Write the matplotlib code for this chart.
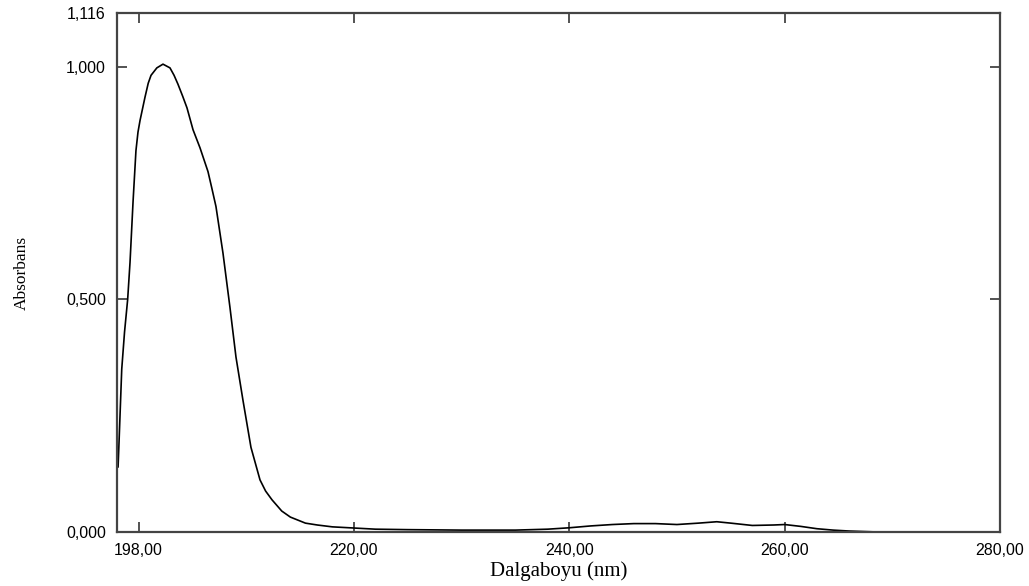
import matplotlib
matplotlib.use("Agg")
from matplotlib import pyplot as plt

# absorbance spectrum
wavelength = [198.1, 198.2, 198.44, 198.7, 198.99, 199.21, 199.49, 199.76, 199.95,
              200.14, 200.6, 200.9, 201.16, 201.7, 202.27, 202.92, 203.3, 203.66,
              204.1, 204.5, 205.06, 205.71, 206.45, 206.8, 207.19, 207.84, 208.49,
              209.05, 209.7, 210.44, 211.28, 211.8, 212.4, 213.3, 214.1, 215.5,
              216.6, 218.0, 219.6, 222, 225, 230, 235, 238, 240, 242, 244, 246,
              248, 250, 252, 253.7, 255, 257, 259, 260, 261.5, 263, 264.5, 266, 268.6]
absorbance = [0.14, 0.20, 0.35, 0.43, 0.50, 0.58, 0.71, 0.82, 0.86,
              0.885, 0.935, 0.965, 0.982, 0.998, 1.006, 0.998, 0.982, 0.963,
              0.937, 0.912, 0.865, 0.826, 0.775, 0.74, 0.70, 0.60, 0.483,
              0.376, 0.283, 0.182, 0.112, 0.088, 0.069, 0.045, 0.032, 0.019,
              0.015, 0.011, 0.009, 0.006, 0.005, 0.004, 0.004, 0.006, 0.009, 0.013, 0.016, 0.018,
              0.018, 0.016, 0.019, 0.022, 0.019, 0.014, 0.015, 0.016, 0.012, 0.007, 0.004, 0.002, 0.0]

x_ticks = [200, 220, 240, 260, 280]
x_labels = ["198,00", "220,00", "240,00", "260,00", "280,00"]
y_ticks = [0.0, 0.5, 1.0, 1.116]
y_labels = ["0,000", "0,500", "1,000", "1,116"]

fig = plt.figure(figsize=(10.29, 5.86), dpi=100)
ax = fig.add_axes([0.1137, 0.0922, 0.8581, 0.8856])

ax.plot(wavelength, absorbance, color="black", linewidth=1.2)

ax.set_xlim(198, 280)
ax.set_ylim(0, 1.116)

ax.set_xticks(x_ticks)
ax.set_xticklabels(x_labels, fontfamily="Liberation Sans", fontsize=11.5)
ax.set_yticks(y_ticks)
ax.set_yticklabels(y_labels, fontfamily="Liberation Sans", fontsize=11.5)

ax.tick_params(direction="in", length=7, width=1.3, color="#444444",
               top=True, right=True, pad=8)
ax.tick_params(axis="y", labelright=False)

for s in ax.spines.values():
    s.set_color("#444444")
    s.set_linewidth(1.6)

ax.set_xlabel("Dalgaboyu (nm)", fontfamily="Liberation Serif", fontsize=15, labelpad=2)
ax.set_ylabel("Absorbans", fontfamily="Liberation Serif", fontsize=12.5, labelpad=26)

fig.savefig("out.png", dpi=100)
